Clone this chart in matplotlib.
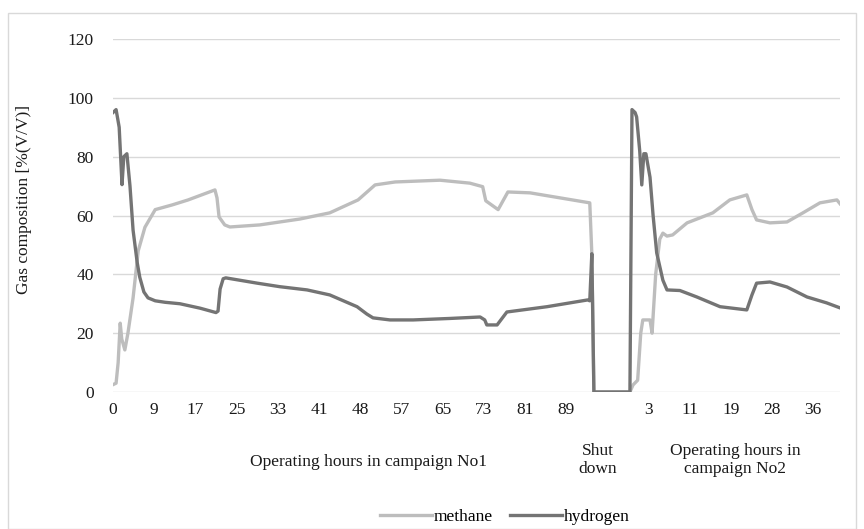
import matplotlib.pyplot as plt
from matplotlib.patches import Rectangle

plt.rcParams['font.family'] = ['Liberation Serif', 'DejaVu Serif']

# category positions (index along the axis) and gas share [% V/V]
methane_idx = [0, 0.6, 1.0, 1.4, 1.7, 2.3, 2.9, 3.9, 4.9, 6.2, 8.2, 11.5, 14.6, 19.8, 20.2,
               20.6, 21.7, 22.7, 28.5, 36.3, 42.1, 47.6, 50.9, 54.8, 63.5, 69.3, 71.8, 72.4,
               73.2, 74.8, 76.7, 81.0, 86.8, 92.6, 93.0, 93.4, 100.4, 101.0, 101.9, 102.5,
               102.9, 104.3, 104.7, 105.4, 106.2, 106.8, 107.6, 108.7, 111.5, 116.5, 119.8,
               123.1, 124.1, 125.0, 127.6, 130.9, 134.0, 137.3, 140.6, 141.2]
methane_val = [2.5, 3, 10, 23.4, 18, 14.3, 20, 32, 48, 56, 62, 63.6, 65.3, 68.7, 66,
               59.5, 56.8, 56.1, 56.8, 58.8, 60.9, 65.3, 70.4, 71.4, 72, 71, 69.8, 65,
               64, 62, 68, 67.7, 66, 64.3, 47, 0, 0, 2.4, 4, 20,
               24.5, 24.5, 20, 40, 52, 54, 53, 53.4, 57.5, 60.9, 65.3,
               67, 62, 58.5, 57.5, 57.8, 60.9, 64.3, 65.3, 64]

hydrogen_idx = [0, 0.6, 1.2, 1.75, 2.1, 2.7, 3.3, 3.9, 4.7, 5.2, 6.0, 6.8, 8.2, 10.1, 13.0,
                16.9, 20.0, 20.4, 20.8, 21.4, 21.9, 28.0, 32.4, 37.7, 42.1, 47.4, 49.3, 50.5,
                53.8, 58.3, 65.4, 71.3, 72.2, 72.6, 74.6, 76.5, 84.3, 92.2, 92.6, 93.0, 93.4,
                100.4, 100.8, 101.4, 101.7, 102.3, 102.7, 103.1, 103.5, 104.3, 104.9, 105.6,
                106.8, 107.6, 110.1, 113.4, 117.9, 123.1, 124.1, 125.0, 127.6, 130.9, 134.8,
                138.6, 141.2]
hydrogen_val = [95, 96, 90, 70.5, 80, 81, 70, 55, 44, 39, 34, 32, 31, 30.5, 30,
                28.5, 27, 27.5, 35, 38.5, 38.8, 37, 35.8, 34.7, 33, 29, 26.5, 25.2,
                24.5, 24.5, 25, 25.5, 24.5, 22.8, 22.8, 27.2, 29, 31.3, 31, 47, 0,
                0, 96, 95, 93.5, 82, 70.4, 81, 81, 73, 60, 47.3,
                38, 34.7, 34.5, 32.3, 29, 27.9, 33, 37, 37.4, 35.7, 32.3,
                30.3, 28.6]

tick_pos = [0, 8, 16, 24, 32, 40, 48, 56, 64, 72, 80, 88, 96, 104, 112, 120, 128, 136]
tick_labels = ['0', '9', '17', '25', '33', '41', '48', '57', '65', '73', '81', '89', '',
               '3', '11', '19', '28', '36']

FS = 12.5

fig = plt.figure(figsize=(8.64, 5.29), dpi=100)
ax = fig.add_axes([113 / 864, 1 - 392 / 529, (840 - 113) / 864, (392 - 39) / 529])

# light frame round the whole chart
fig.patches.append(Rectangle((8 / 864, 0), 848 / 864, 1 - 13 / 529, transform=fig.transFigure,
                             fill=False, edgecolor='#d9d9d9', linewidth=1))

ax.plot(methane_idx, methane_val, color='#bdbdbd', lw=2.4, solid_joinstyle='round',
        label='methane')
ax.plot(hydrogen_idx, hydrogen_val, color='#747474', lw=2.4, solid_joinstyle='round',
        label='hydrogen')

ax.set_xlim(0, 141.2)
ax.set_ylim(0, 120)
ax.set_yticks(range(0, 121, 20))
ax.set_xticks(tick_pos)
ax.set_xticklabels(tick_labels)
ax.tick_params(length=0, labelsize=FS, colors='#1a1a1a')
ax.tick_params(axis='y', pad=14)
ax.tick_params(axis='x', pad=7)
ax.grid(axis='y', color='#d9d9d9', lw=1)
ax.set_axisbelow(True)
for s in ax.spines.values():
    s.set_visible(False)

ax.set_ylabel('Gas composition [%(V/V)]', fontsize=FS, color='#1a1a1a')
ax.yaxis.set_label_coords(-(113 - 32) / 727, (392 - 200) / 353)

fig.text(368 / 864, 1 - 462 / 529, 'Operating hours in campaign No1', ha='center', va='center',
         fontsize=FS, color='#1a1a1a')
fig.text(598 / 864, 1 - 460 / 529, 'Shut\ndown', ha='center', va='center', fontsize=FS,
         linespacing=1.2, color='#1a1a1a')
fig.text(735 / 864, 1 - 460 / 529, 'Operating hours in\ncampaign No2', ha='center',
         va='center', fontsize=FS, linespacing=1.2, color='#1a1a1a')

fig.legend(loc='center', bbox_to_anchor=(505 / 864, 1 - 517 / 529), ncol=2, frameon=False,
           fontsize=FS, handlelength=3, columnspacing=1.0, handletextpad=0.1)

fig.savefig('out.png', dpi=100)
